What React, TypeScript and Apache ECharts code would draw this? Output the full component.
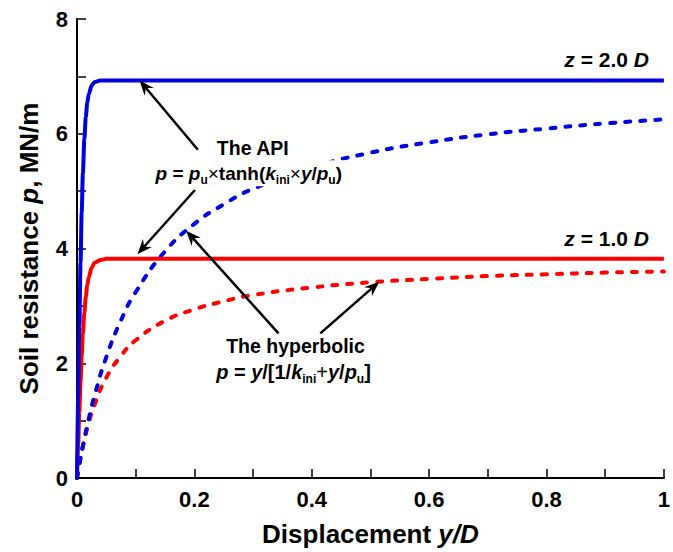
import React, { useEffect, useRef } from "react";
import * as echarts from "echarts";

// ---- data ----
const apiX = [0, 0.002, 0.004, 0.006, 0.008, 0.01, 0.0125, 0.015, 0.0175, 0.02, 0.025, 0.03, 0.04, 0.05, 1];
const api2D = [0, 1.38, 2.66, 3.75, 4.63, 5.31, 5.9, 6.29, 6.54, 6.69, 6.84, 6.9, 6.93, 6.93, 6.93];
const api1D = [0, 0.6, 1.16, 1.68, 2.13, 2.51, 2.88, 3.16, 3.36, 3.5, 3.67, 3.75, 3.8, 3.82, 3.82];

const hypX = [0, 0.005, 0.01, 0.02, 0.03, 0.05, 0.075, 0.1, 0.15, 0.2, 0.25, 0.3, 0.4, 0.5, 0.6, 0.7, 0.8, 0.9, 1.0];
const hyp2D = [0, 0.29, 0.56, 1.03, 1.44, 2.11, 2.75, 3.24, 3.95, 4.43, 4.77, 5.04, 5.41, 5.67, 5.85, 5.99, 6.09, 6.18, 6.25];
const hyp1D = [0, 0.3, 0.55, 0.96, 1.28, 1.75, 2.13, 2.4, 2.74, 2.94, 3.08, 3.19, 3.32, 3.41, 3.47, 3.52, 3.55, 3.58, 3.6];

const xTickLabels = ["0", "0.2", "0.4", "0.6", "0.8", "1"];
const yTickLabels = ["0", "2", "4", "6", "8"];

// arrows: [tailX, tailP, headX, headP] in data units
const arrows = [
  [0.206, 5.72, 0.1066, 6.93],
  [0.201, 5.02, 0.103, 3.9],
  [0.3434, 2.52, 0.186, 4.31],
  [0.4146, 2.52, 0.515, 3.42],
];

const FONT = '"Liberation Sans", Arial, Helvetica, sans-serif';
const BLUE = "#0000dd";
const RED = "#ff0000";

const zip = (xs: number[], ys: number[]) => xs.map((x, i) => [x, ys[i]]);

export default function App() {
  const ref = useRef<HTMLDivElement>(null);

  useEffect(() => {
    document.body.style.margin = "0";
    const chart = echarts.init(ref.current!, null, { renderer: "svg" });
    const axisLine = { show: true, lineStyle: { color: "#000", width: 2 } };
    const labelStyle = { color: "#000", fontSize: 22, fontWeight: "bold" as const, fontFamily: FONT };
    const nameRich = {
      n: { fontSize: 26, fontWeight: "bold" as const, fontFamily: FONT, color: "#000" },
      i: { fontSize: 26, fontWeight: "bold" as const, fontStyle: "italic" as const, fontFamily: FONT, color: "#000" },
    };
    chart.setOption({
      animation: false,
      backgroundColor: "#fff",
      grid: { left: 77, right: 5, top: 19, bottom: 68 },
      xAxis: {
        type: "value",
        min: 0,
        max: 1,
        interval: 0.1,
        name: "{n|Displacement }{i|y/D}",
        nameLocation: "middle",
        nameGap: 43,
        nameTextStyle: { rich: nameRich },
        axisLine,
        axisTick: { show: true, inside: true, length: 9, lineStyle: { color: "#000", width: 1.5 } },
        splitLine: { show: false },
        axisLabel: {
          ...labelStyle,
          margin: 10,
          formatter: (v: number) => {
            const k = Math.round(v * 10);
            return k % 2 === 0 ? xTickLabels[k / 2] : "";
          },
        },
      },
      yAxis: {
        type: "value",
        min: 0,
        max: 8,
        interval: 1,
        name: "{n|Soil resistance }{i|p}{n|, MN/m}",
        nameLocation: "middle",
        nameGap: 35,
        nameTextStyle: { rich: nameRich },
        axisLine,
        axisTick: { show: true, inside: true, length: 9, lineStyle: { color: "#000", width: 1.5 } },
        splitLine: { show: false },
        axisLabel: {
          ...labelStyle,
          margin: 9,
          formatter: (v: number) => {
            const k = Math.round(v);
            return k % 2 === 0 ? yTickLabels[k / 2] : "";
          },
        },
      },
      series: [
        {
          type: "line",
          data: zip(hypX, hyp1D),
          showSymbol: false,
          smooth: 0.5,
          lineStyle: { color: RED, width: 4, type: [5, 10], cap: "round" },
        },
        {
          type: "line",
          data: zip(hypX, hyp2D),
          showSymbol: false,
          smooth: 0.5,
          lineStyle: { color: BLUE, width: 4, type: [5, 10], cap: "round" },
        },
        {
          type: "line",
          data: zip(apiX, api1D),
          showSymbol: false,
          smooth: 0.3,
          smoothMonotone: "x",
          lineStyle: { color: RED, width: 4 },
        },
        {
          type: "line",
          data: zip(apiX, api2D),
          showSymbol: false,
          smooth: 0.3,
          smoothMonotone: "x",
          lineStyle: { color: BLUE, width: 4 },
        },
      ],
    });

    const px = (x: number, y: number) => chart.convertToPixel({ gridIndex: 0 }, [x, y]) as number[];

    const graphics: any[] = [];
    arrows.forEach(([tx, tp, hx, hp]) => {
      const [x1, y1] = px(tx, tp);
      const [x2, y2] = px(hx, hp);
      const dx = x2 - x1;
      const dy = y2 - y1;
      const len = Math.hypot(dx, dy);
      const ux = dx / len;
      const uy = dy / len;
      const nx = -uy;
      const ny = ux;
      const L = 15;
      const W = 6;
      const N = 10;
      graphics.push({
        type: "line",
        shape: { x1, y1, x2: x2 - ux * N, y2: y2 - uy * N },
        style: { stroke: "#000", lineWidth: 2.5 },
        z: 100,
      });
      graphics.push({
        type: "polygon",
        shape: {
          points: [
            [x2, y2],
            [x2 - ux * L + nx * W, y2 - uy * L + ny * W],
            [x2 - ux * N, y2 - uy * N],
            [x2 - ux * L - nx * W, y2 - uy * L - ny * W],
          ],
        },
        style: { fill: "#000" },
        z: 100,
      });
    });

    const mkRich = (F: number) => ({
      b: { fontSize: F, fontWeight: "bold", fontFamily: FONT, lineHeight: 26, fill: "#000" },
      bi: { fontSize: F, fontWeight: "bold", fontStyle: "italic", fontFamily: FONT, lineHeight: 26, fill: "#000" },
      n: { fontSize: F, fontWeight: "normal", fontFamily: FONT, lineHeight: 26, fill: "#000" },
      sub: { fontSize: 12, fontWeight: "bold", fontFamily: FONT, lineHeight: 10, verticalAlign: "bottom", fill: "#000" },
    });
    const addText = (x: number, y: number, text: string, align: string, F: number, bg?: boolean) => {
      const [cx, cy] = px(x, y);
      graphics.push({
        type: "text",
        x: cx,
        y: cy,
        z: 100,
        style: {
          text,
          rich: mkRich(F),
          align,
          verticalAlign: "middle",
          font: `bold ${F}px ${FONT}`,
          fill: "#000",
          backgroundColor: bg ? "#fff" : undefined,
          padding: bg ? [0, 8, 0, 8] : undefined,
        },
      });
    };
    addText(0.2995, 5.76, "{b|The API}", "center", 19.5);
    addText(0.2927, 5.31, "{bi|p}{b| = }{bi|p}{sub|u}{n|×}{b|tanh(}{bi|k}{sub|ini}{n|×}{bi|y}{b|/}{bi|p}{sub|u}{b|)}", "center", 19, true);
    addText(0.3723, 2.293, "{b|The hyperbolic}", "center", 19.5);
    addText(0.3689, 1.84, "{bi|p}{b| = }{bi|y}{b|/[1/}{bi|k}{sub|ini}{n|+}{bi|y}{b|/}{bi|p}{sub|u}{b|]}", "center", 20);
    addText(0.9746, 7.29, "{bi|z}{b| = 2.0 }{bi|D}", "right", 21);
    addText(0.9746, 4.17, "{bi|z}{b| = 1.0 }{bi|D}", "right", 21);

    chart.setOption({ graphic: graphics });
    return () => chart.dispose();
  }, []);

  return <div ref={ref} style={{ width: 673, height: 552 }} />;
}
